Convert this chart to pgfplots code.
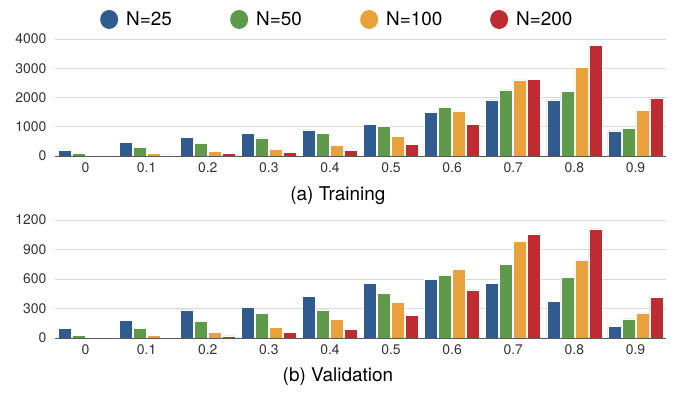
\documentclass[border=0pt]{standalone}
\usepackage{fontspec}
\setmainfont{TeX Gyre Heros}
\usepackage{pgfplots}
\pgfplotsset{compat=1.18}
\definecolor{nblue}{HTML}{2F5B8E}
\definecolor{ngreen}{HTML}{5F9A4A}
\definecolor{norange}{HTML}{E9A23B}
\definecolor{nred}{HTML}{BE2B30}
\definecolor{gridgray}{HTML}{D9D9D9}
\definecolor{ticktext}{HTML}{333333}

\pgfplotsset{
  barpanel/.style={
    scale only axis, width=611bp, height=117bp,
    ybar=1bp, bar width=13bp,
    xmin=-0.5, xmax=9.5, ymin=0,
    xtick={0,...,9}, xticklabels={0,0.1,0.2,0.3,0.4,0.5,0.6,0.7,0.8,0.9},
    major tick length=0pt,
    axis x line*=bottom, axis y line*=left,
    x axis line style={draw=black!65, line width=0.8bp, -},
    y axis line style={draw=none},
    ymajorgrids, grid style={gridgray, line width=0.8bp},
    tick label style={font=\fontsize{14}{16}\selectfont, text=ticktext},
    /pgf/number format/assume math mode=true,
    /pgf/number format/1000 sep={},
    yticklabel style={xshift=-5bp},
    xticklabel style={yshift=-3bp},
    xlabel style={font=\fontsize{19}{22}\selectfont, anchor=center},
  },
  dot legend/.style={legend image code/.code={%
    \fill[##1, draw=none] (9bp,0bp) ellipse [x radius=9bp, y radius=9.5bp];}},
  bars/.style={fill=#1, draw=white, line width=0.6bp, dot legend},
}

\begin{document}
\begin{tikzpicture}
\path[use as bounding box] (0,0) rectangle (676bp,396bp);

% (a) training
\begin{axis}[barpanel, at={(55bp,240bp)}, anchor=south west,
  ymax=4000, ytick={0,1000,2000,3000,4000},
  xlabel={(a) Training},
  xlabel style={at={(axis description cs:0.463,-0.342)}},
  legend columns=4,
  legend style={draw=none, fill=none, inner sep=0pt,
    at={(axis description cs:0.0736,1.167)}, anchor=west,
    font=\fontsize{19}{22}\selectfont, column sep=0pt,
    /tikz/every odd column/.append style={column sep=6bp}},
]
\addplot[bars=nblue] coordinates {(0,180) (1,470) (2,640) (3,770) (4,890) (5,1090) (6,1500) (7,1920) (8,1920) (9,860)};
\addlegendentry{\makebox[102bp][l]{N=25}}
\addplot[bars=ngreen] coordinates {(0,100) (1,300) (2,430) (3,620) (4,770) (5,1000) (6,1650) (7,2260) (8,2210) (9,930)};
\addlegendentry{\makebox[102bp][l]{N=50}}
\addplot[bars=norange] coordinates {(1,100) (2,160) (3,230) (4,360) (5,660) (6,1540) (7,2600) (8,3020) (9,1560)};
\addlegendentry{\makebox[102bp][l]{N=100}}
\addplot[bars=nred] coordinates {(1,40) (2,80) (3,120) (4,200) (5,390) (6,1080) (7,2620) (8,3770) (9,1960)};
\addlegendentry{N=200}
\end{axis}

% (b) validation
\begin{axis}[barpanel, at={(55bp,58bp)}, anchor=south west, height=118bp,
  ymax=1200, ytick={0,300,600,900,1200},
  xlabel={(b) Validation},
  xlabel style={at={(axis description cs:0.463,-0.33)}},
]
\addplot[bars=nblue] coordinates {(0,95) (1,180) (2,285) (3,310) (4,420) (5,555) (6,595) (7,555) (8,370) (9,115)};
\addplot[bars=ngreen] coordinates {(0,30) (1,100) (2,165) (3,250) (4,285) (5,455) (6,640) (7,750) (8,615) (9,195)};
\addplot[bars=norange] coordinates {(1,30) (2,55) (3,110) (4,190) (5,360) (6,695) (7,985) (8,795) (9,255)};
\addplot[bars=nred] coordinates {(1,10) (2,22) (3,55) (4,90) (5,230) (6,490) (7,1050) (8,1110) (9,410)};
\end{axis}
\end{tikzpicture}
\end{document}
